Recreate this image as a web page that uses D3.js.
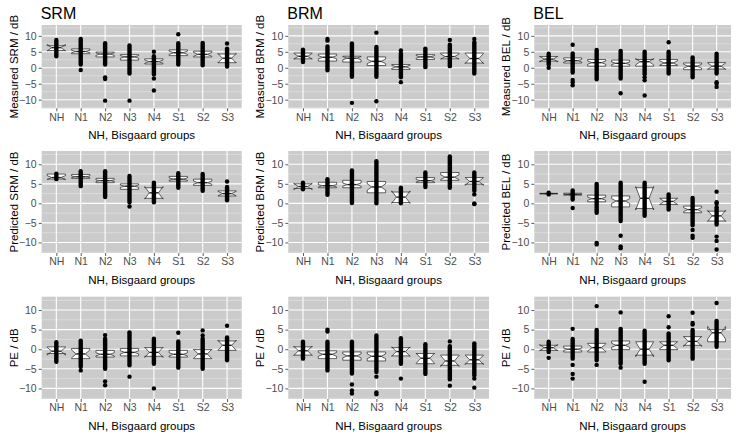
<!DOCTYPE html>
<html>
<head>
<meta charset="utf-8">
<script src="https://cdn.jsdelivr.net/npm/d3@7"></script>
<style>
  body { margin: 0; background: #fff; }
  svg { display: block; font-family: "Liberation Sans", Arial, sans-serif; }
</style>
</head>
<body>
<svg id="chart" width="740" height="437"></svg>
<script>
// groups on the x axis
const groups = ["NH", "N1", "N2", "N3", "N4", "S1", "S2", "S3"];
const yTicks = [-10, -5, 0, 5, 10];

// box stats per group: [q1, median, q3, notch half-width]
// strip: [low, high] of the dense column of dots; out: single dots
const srmMeasBox = [[5.4, 6.3, 6.9, 1.0], [4.4, 5.1, 5.9, 0.4], [3.4, 4.3, 4.9, 0.4], [2.4, 3.4, 4.1, 0.4],
                    [1.2, 1.9, 2.8, 0.5], [3.8, 4.7, 5.6, 0.5], [3.4, 4.2, 5.2, 0.6], [1.6, 3.0, 4.3, 1.5]];
const srmMeasStrip = [[3.6, 8.7], [1.0, 9.0], [1.0, 7.7], [-1.8, 7.0], [-2.1, 3.6], [1.0, 7.7], [0.8, 7.8], [0.4, 6.0]];
const srmMeasOut = [[], [-0.7], [-3.0, -3.5, -10.3], [-10.3], [5.0, -3.4, -7.1], [10.5], [], [7.6]];

const brmMeasBox = [[2.8, 3.6, 4.6, 0.9], [2.1, 3.3, 4.3, 0.5], [1.8, 3.0, 3.6, 0.5], [0.7, 2.0, 3.4, 0.7],
                    [-0.5, 0.3, 1.0, 0.5], [2.6, 3.4, 4.1, 0.4], [2.8, 3.5, 4.6, 0.8], [1.5, 2.9, 4.6, 1.6]];
const brmMeasStrip = [[1.8, 5.7], [-0.8, 6.7], [-2.8, 7.6], [-2.8, 6.5], [-3.0, 4.5], [0.2, 6.0], [0.5, 7.2], [-1.8, 8.0]];
const brmMeasOut = [[], [8.5, 9.0], [-11.0], [11.0, -10.5], [5.4, -4.5], [], [8.7], [9.0]];

const belMeasBox = [[2.1, 2.7, 3.5, 0.9], [1.5, 2.2, 3.1, 0.4], [0.5, 1.6, 2.6, 0.5], [0.5, 1.4, 2.4, 0.4],
                    [0.5, 1.9, 2.6, 1.0], [0.7, 1.5, 2.6, 0.7], [-0.6, 0.5, 1.5, 0.6], [-0.4, 0.5, 1.6, 1.0]];
const belMeasStrip = [[1.0, 4.4], [-1.5, 4.5], [-3.6, 5.6], [-3.4, 5.3], [-2.0, 5.0], [-1.8, 5.0], [-3.0, 3.2], [-1.8, 4.4]];
const belMeasOut = [[0.0], [7.2, -3.8, -4.5, -5.5], [], [-8.0], [-3.0, -3.9, -8.7], [8.0], [], [-4.5, -5.0, -6.0]];

const srmPredBox = [[6.2, 6.6, 7.5, 0.5], [6.4, 6.8, 7.4, 0.2], [5.3, 5.8, 6.4, 0.2], [3.6, 4.4, 5.0, 0.3],
                    [1.3, 2.7, 4.0, 1.6], [5.7, 6.2, 6.9, 0.3], [4.6, 5.3, 6.2, 0.4], [1.9, 2.5, 3.2, 0.6]];
const srmPredStrip = [[6.2, 7.6], [4.4, 8.2], [1.6, 8.2], [0.3, 7.0], [0.3, 5.3], [4.0, 7.7], [3.2, 7.5], [0.8, 4.2]];
const srmPredOut = [[], [], [], [-0.8], [], [], [], [5.6]];

const brmPredBox = [[3.8, 4.3, 5.0, 0.8], [4.0, 4.5, 5.4, 0.3], [4.0, 4.8, 5.9, 0.4], [2.7, 4.2, 5.6, 0.8],
                    [0.2, 1.6, 2.9, 1.6], [5.3, 5.8, 6.6, 0.3], [5.9, 6.7, 7.9, 0.6], [4.9, 5.6, 6.6, 1.0]];
const brmPredStrip = [[3.6, 5.3], [2.2, 6.2], [0.1, 8.4], [0.0, 10.8], [0.0, 4.0], [4.2, 7.9], [4.0, 12.0], [3.2, 7.9]];
const brmPredOut = [[], [], [], [], [], [], [], [2.3, 0.0, -0.2]];

const belPredBox = [[2.45, 2.5, 2.55, 0.05], [2.1, 2.3, 2.6, 0.1], [0.4, 1.2, 2.1, 0.4], [-0.9, 0.6, 1.9, 0.6],
                    [-1.3, 1.3, 4.0, 3.0], [-0.3, 0.5, 1.3, 0.8], [-2.4, -1.6, -0.7, 0.5], [-4.5, -3.2, -2.0, 1.4]];
const belPredStrip = [[2.3, 2.7], [1.0, 3.3], [-2.4, 5.0], [-4.5, 5.3], [-3.2, 5.3], [-1.6, 2.3], [-5.6, 1.4], [-5.4, -1.0]];
const belPredOut = [[], [-1.2], [-10.1, -10.5], [-8.3, -11.0, -11.5], [], [], [-6.8, -8.3, -8.8],
                    [3.0, 0.3, -0.1, -8.5, -9.6, -11.8]];

const srmPeBox = [[-1.1, -0.5, 0.6, 1.0], [-2.4, -1.2, 0.2, 1.0], [-2.0, -1.3, -0.3, 0.4], [-1.7, -0.8, 0.2, 0.4],
                  [-1.8, -0.8, 0.4, 1.3], [-2.0, -1.3, -0.3, 0.4], [-2.4, -1.2, -0.1, 1.2], [-0.3, 1.0, 2.1, 1.3]];
const srmPeStrip = [[-3.2, 1.8], [-4.5, 2.2], [-5.0, 2.7], [-4.1, 4.3], [-3.7, 2.7], [-4.7, 2.0], [-5.0, 2.7], [-2.8, 3.0]];
const srmPeOut = [[], [-5.4], [3.6, -8.2, -9.2], [-7.0], [-10.0], [4.2], [4.8, 3.5], [6.0]];

const brmPeBox = [[-1.5, -0.4, 0.6, 1.2], [-2.4, -1.3, -0.4, 0.5], [-2.8, -1.7, -0.7, 0.5], [-3.0, -1.8, -0.7, 0.6],
                  [-1.7, -0.6, 0.4, 1.2], [-3.7, -2.3, -1.1, 1.3], [-4.1, -3.0, -1.5, 1.4], [-3.7, -2.7, -1.5, 1.2]];
const brmPeStrip = [[-2.4, 1.9], [-5.4, 1.9], [-6.2, 1.9], [-5.8, 3.5], [-3.7, 2.8], [-6.3, 1.3], [-7.7, 0.8], [-6.7, 1.5]];
const brmPeOut = [[], [4.5, 5.0], [-9.0, -10.5, -11.3], [-7.0, -11.0, -11.5], [-7.5], [], [2.0, -9.3], [-7.5, -9.8]];

const belPeBox = [[-0.3, 0.4, 1.0, 0.8], [-0.7, 0.0, 0.8, 0.3], [-0.7, 0.4, 1.5, 0.9], [-0.1, 1.0, 2.1, 0.5],
                  [-1.5, 0.0, 1.9, 1.9], [-0.1, 1.0, 1.9, 0.9], [1.0, 2.0, 3.2, 1.3], [1.9, 4.2, 5.0, 1.6]];
const belPeStrip = [[-0.7, 1.9], [-2.4, 2.6], [-2.8, 4.9], [-3.7, 5.2], [-3.7, 4.7], [-2.8, 4.0], [-2.4, 4.9], [0.6, 7.2]];
const belPeOut = [[-2.2], [5.2, -4.0, -6.3, -7.5], [11.0, -4.0], [9.4, -4.7], [-8.3], [8.4, 5.6], [9.3, 6.7, 6.3], [11.8]];

const panels = [
  { row: 0, col: 0, title: "SRM", ylab: "Measured SRM / dB", box: srmMeasBox, strip: srmMeasStrip, out: srmMeasOut },
  { row: 0, col: 1, title: "BRM", ylab: "Measured BRM / dB", box: brmMeasBox, strip: brmMeasStrip, out: brmMeasOut },
  { row: 0, col: 2, title: "BEL", ylab: "Measured BEL / dB", box: belMeasBox, strip: belMeasStrip, out: belMeasOut },
  { row: 1, col: 0, ylab: "Predicted SRM / dB", box: srmPredBox, strip: srmPredStrip, out: srmPredOut },
  { row: 1, col: 1, ylab: "Predicted BRM / dB", box: brmPredBox, strip: brmPredStrip, out: brmPredOut },
  { row: 1, col: 2, ylab: "Predicted BEL / dB", box: belPredBox, strip: belPredStrip, out: belPredOut },
  { row: 2, col: 0, ylab: "PE / dB", box: srmPeBox, strip: srmPeStrip, out: srmPeOut },
  { row: 2, col: 1, ylab: "PE / dB", box: brmPeBox, strip: brmPeStrip, out: brmPeOut },
  { row: 2, col: 2, ylab: "PE / dB", box: belPeBox, strip: belPeStrip, out: belPeOut }
];

// panel edges (px)
const colX = [[41.7, 241.7], [288.3, 489], [534.3, 731]];
const rowY = [[25, 108.3], [151, 253], [296.7, 399]];
const yDomain = [-12.7, 13.4];

const svg = d3.select('#chart');

panels.forEach(p => {
    const [x0, x1] = colX[p.col];
    const [y0, y1] = rowY[p.row];

    const x = d3.scalePoint().domain(groups).range([x0, x1]).padding(0.6);
    const y = d3.scaleLinear().domain(yDomain).range([y1, y0]);
    const step = x.step();
    const bw = step * 0.75;

    const g = svg.append('g');

    g.append('rect')
        .attr('x', x0).attr('y', y0)
        .attr('width', x1 - x0).attr('height', y1 - y0)
        .attr('fill', '#cbcbcb');

    // minor grid
    const minor = [-12.5, -7.5, -2.5, 2.5, 7.5, 12.5].filter(v => v > yDomain[0] && v < yDomain[1]);
    g.selectAll('.minor').data(minor).join('line')
        .attr('x1', x0).attr('x2', x1)
        .attr('y1', d => y(d)).attr('y2', d => y(d))
        .attr('stroke', '#e6e6e6').attr('stroke-width', 0.6);

    // major grid
    g.selectAll('.hmaj').data(yTicks).join('line')
        .attr('x1', x0).attr('x2', x1)
        .attr('y1', d => y(d)).attr('y2', d => y(d))
        .attr('stroke', '#fff').attr('stroke-width', 1.1);
    g.selectAll('.vmaj').data(groups).join('line')
        .attr('x1', d => x(d)).attr('x2', d => x(d))
        .attr('y1', y0).attr('y2', y1)
        .attr('stroke', '#fff').attr('stroke-width', 1.1);

    // notched boxes
    groups.forEach((grp, i) => {
        const [q1, med, q3, nh] = p.box[i];
        const cx = x(grp);
        const xl = cx - bw / 2, xr = cx + bw / 2;
        const ind = bw / 4;
        const pts = [
            [xl, y(q3)], [xl, y(med + nh)], [xl + ind, y(med)], [xl, y(med - nh)], [xl, y(q1)],
            [xr, y(q1)], [xr, y(med - nh)], [xr - ind, y(med)], [xr, y(med + nh)], [xr, y(q3)]
        ];
        g.append('path')
            .attr('d', d3.line()(pts) + 'Z')
            .attr('fill', '#fff')
            .attr('stroke', '#222')
            .attr('stroke-width', 0.7);
        g.append('line')
            .attr('x1', xl + ind).attr('x2', xr - ind)
            .attr('y1', y(med)).attr('y2', y(med))
            .attr('stroke', '#222').attr('stroke-width', 1.4);
    });

    // dense columns of dots
    groups.forEach((grp, i) => {
        const [lo, hi] = p.strip[i];
        g.append('line')
            .attr('x1', x(grp)).attr('x2', x(grp))
            .attr('y1', y(lo)).attr('y2', y(hi))
            .attr('stroke', '#000')
            .attr('stroke-width', 4.4)
            .attr('stroke-linecap', 'round');
        p.out[i].forEach(v => {
            g.append('circle')
                .attr('cx', x(grp)).attr('cy', y(v))
                .attr('r', 2.2).attr('fill', '#000');
        });
    });

    // axes
    const yAxis = g.append('g')
        .attr('transform', `translate(${x0},0)`)
        .call(d3.axisLeft(y).tickValues(yTicks).tickSize(3).tickPadding(2));
    const xAxis = g.append('g')
        .attr('transform', `translate(0,${y1})`)
        .call(d3.axisBottom(x).tickSize(3).tickPadding(2));
    [yAxis, xAxis].forEach(a => {
        a.select('.domain').remove();
        a.selectAll('.tick line').attr('stroke', '#333').attr('stroke-width', 0.8);
        a.selectAll('.tick text')
            .attr('fill', '#4d4d4d')
            .style('font-size', '10.5px')
            .style('font-family', '"Liberation Sans", Arial, sans-serif');
    });

    g.append('text')
        .attr('x', (x0 + x1) / 2)
        .attr('y', y1 + 31)
        .attr('text-anchor', 'middle')
        .style('font-size', '11.5px')
        .text('NH, Bisgaard groups');

    g.append('text')
        .attr('transform', `translate(${x0 - 24},${(y0 + y1) / 2}) rotate(-90)`)
        .attr('text-anchor', 'middle')
        .style('font-size', '11.5px')
        .text(p.ylab);

    if (p.title) {
        g.append('text')
            .attr('x', x0 - 1)
            .attr('y', 19)
            .style('font-size', '16px')
            .text(p.title);
    }
});
</script>
</body>
</html>
